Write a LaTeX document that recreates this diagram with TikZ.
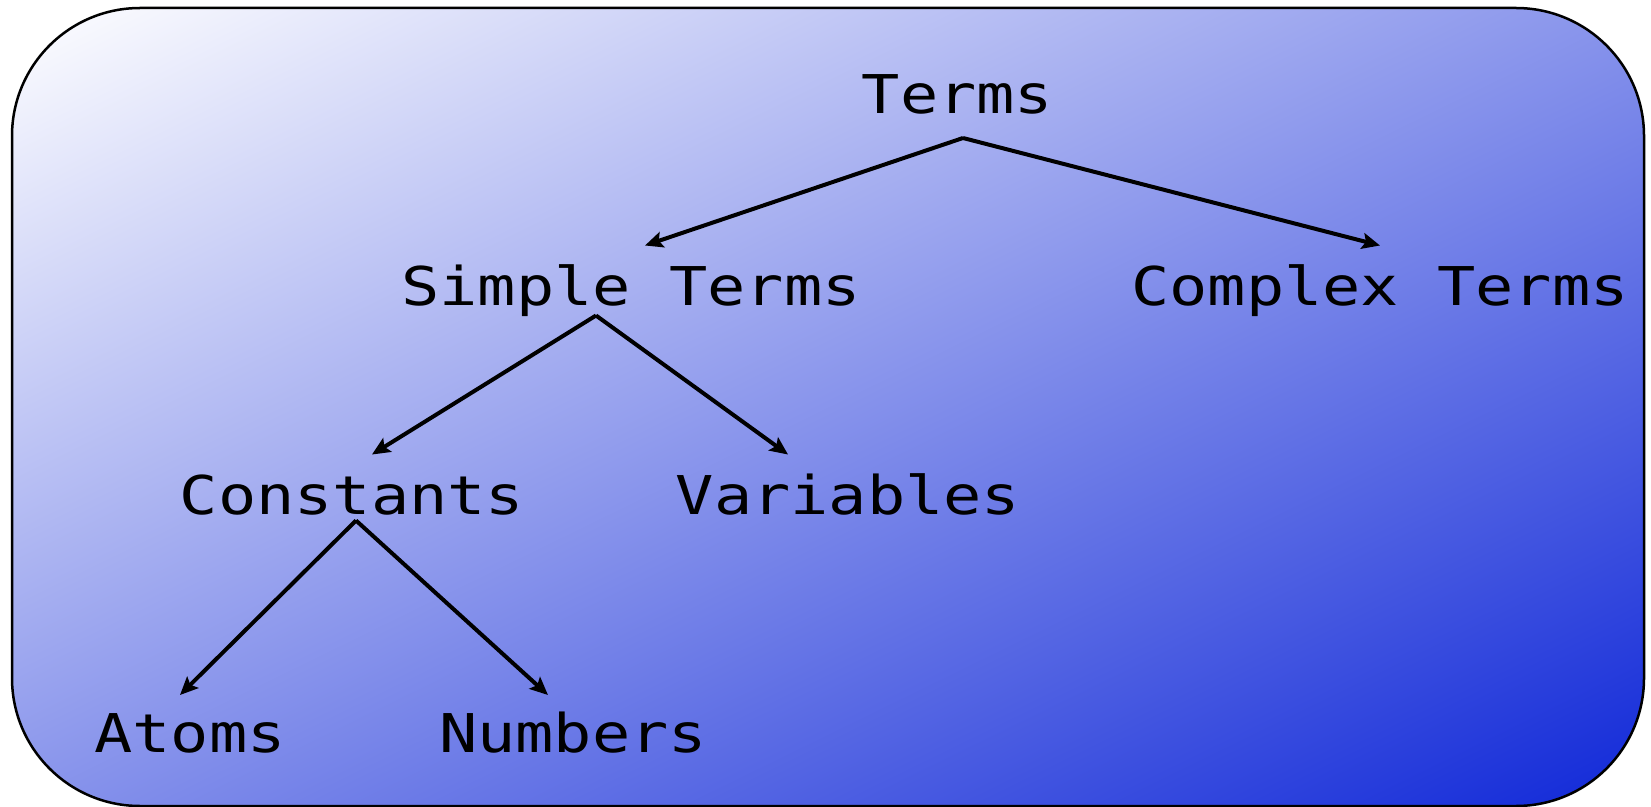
\documentclass[tikz,border=0pt]{standalone}
\usepackage{fontspec}
\usepackage{tikz}
\usetikzlibrary{arrows.meta}

\newfontfamily\termfont[FakeStretch=1.19]{DejaVu Sans Mono}
\definecolor{slideblue}{RGB}{16,40,216}

\begin{document}
\begin{tikzpicture}[->,>={Stealth[length=0.36cm,width=0.32cm,inset=0.07cm]},line width=0.08cm,node distance=2cm,term/.style={font=\termfont\fontsize{30.4}{36}\selectfont,inner sep=0pt,text height=0.78cm,text depth=0pt}]

				\useasboundingbox (0,0) rectangle (33.02,-16.14);
				% background panel, gradient running corner to corner
				\begin{scope}
				\clip[rounded corners=2.56cm] (0.24,-0.16) rectangle (32.88,-16.12);
				\shade[-,top color=white,bottom color=slideblue,transform canvas={shift={(16.56,-8.14)},rotate=26.05}] (-18.2,-14.34) rectangle (18.2,14.34);
				\end{scope}
				\draw[-,line width=0.05cm,rounded corners=2.56cm] (0.24,-0.16) rectangle (32.88,-16.12);

				\node[term] (terms) at (19.15,-1.89) {Terms};
				\node[term] (simple) [node distance=3.83cm, below of=terms, xshift=-6.53cm] {Simple Terms};
				\node[term] (complex) [node distance=14.98cm, right of=simple] {Complex Terms};
				\node[term] (constants) [node distance=4.18cm, below of=simple, xshift=-5.58cm] {Constants};
				\node[term] (variables) [node distance=9.92cm, right of=constants] {Variables};
				\node[term] (atoms) [node distance=4.75cm, below of=constants, xshift=-3.24cm] {Atoms};
				\node[term] (numbers) [node distance=7.66cm, right of=atoms] {Numbers};

				\draw ([xshift=0.11cm,yshift=-0.44cm]terms.south) -- ([xshift=0.28cm,yshift=0.38cm]simple.north);
				\draw ([xshift=0.11cm,yshift=-0.44cm]terms.south) -- ([yshift=0.38cm]complex.north);
				\draw ([xshift=-0.7cm,yshift=-0.16cm]simple.south) -- ([xshift=0.4cm,yshift=0.38cm]constants.north);
				\draw ([xshift=-0.7cm,yshift=-0.16cm]simple.south) -- ([xshift=-1.2cm,yshift=0.38cm]variables.north);
				\draw ([xshift=0.08cm,yshift=-0.08cm]constants.south) -- ([xshift=-0.2cm,yshift=0.32cm]atoms.north);
				\draw ([xshift=0.08cm,yshift=-0.08cm]constants.south) -- ([xshift=-0.5cm,yshift=0.32cm]numbers.north);

\end{tikzpicture}
\end{document}
